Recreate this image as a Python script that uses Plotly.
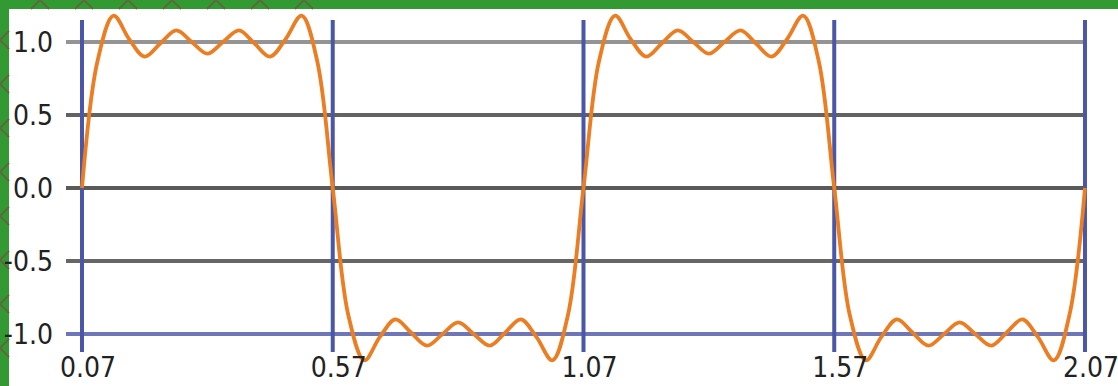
import plotly.graph_objects as go

W, H = 1118, 386

# curve samples: two periods, read every 1/32 of a period
x_vals = [
    0.070, 0.101, 0.133, 0.164, 0.195, 0.226, 0.258, 0.289, 0.320, 0.351, 0.383,
    0.414, 0.445, 0.476, 0.508, 0.539, 0.570, 0.601, 0.633, 0.664, 0.695, 0.726,
    0.758, 0.789, 0.820, 0.851, 0.883, 0.914, 0.945, 0.976, 1.008, 1.039, 1.070,
    1.101, 1.133, 1.164, 1.195, 1.226, 1.258, 1.289, 1.320, 1.351, 1.383, 1.414,
    1.445, 1.476, 1.508, 1.539, 1.570, 1.601, 1.633, 1.664, 1.695, 1.726, 1.758,
    1.789, 1.820, 1.851, 1.883, 1.914, 1.945, 1.976, 2.008, 2.039, 2.070,
]
y_vals = [
    0.00, 0.87, 1.18, 1.02, 0.90, 0.99, 1.08, 1.00, 0.92, 1.00, 1.08,
    0.99, 0.90, 1.02, 1.18, 0.87, 0.00, -0.87, -1.18, -1.02, -0.90, -0.99,
    -1.08, -1.00, -0.92, -1.00, -1.08, -0.99, -0.90, -1.02, -1.18, -0.87, 0.00,
    0.87, 1.18, 1.02, 0.90, 0.99, 1.08, 1.00, 0.92, 1.00, 1.08, 0.99,
    0.90, 1.02, 1.18, 0.87, 0.00, -0.87, -1.18, -1.02, -0.90, -0.99, -1.08,
    -1.00, -0.92, -1.00, -1.08, -0.99, -0.90, -1.02, -1.18, -0.87, 0.00,
]

x_ticks = [0.07, 0.57, 1.07, 1.57, 2.07]
x_tick_text = ["0.07", "0.57", "1.07", "1.57", "2.07"]
y_ticks = [1.0, 0.5, 0.0, -0.5, -1.0]
y_tick_text = ["1.0", "0.5", "0.0", "-0.5", "-1.0"]
h_line_colors = ["#949494", "#626262", "#5a5a5a", "#666666", "#6d77b8"]

# plot-area geometry in pixels (area is taller than the grid so the
# overshoot of the curve below -1 is not clipped)
ML, MR, MT, MB = 66, 28, 5, 14
PW, PH = W - ML - MR, H - MT - MB
X_RANGE = [0.0381, 2.0800]
Y_RANGE = [-1.2603, 1.2534]
GRID_BOTTOM, GRID_TOP = -1.1233, 1.151

GREEN = "#339933"
OLIVE = "#5d6a3b"
BAND = 9          # frame thickness
LATTICE_END = 330  # lattice runs along the top only up to here


def px(xp):
    return (xp - ML) / PW


def py(yp):
    return (H - MB - yp) / PH


def seg(x0, y0, x1, y1):
    return dict(type="line", xref="paper", yref="paper",
                x0=px(x0), y0=py(y0), x1=px(x1), y1=py(y1),
                line=dict(color=OLIVE, width=2), layer="below")


shapes = [
    dict(type="rect", xref="paper", yref="paper",
         x0=px(0), y0=py(0), x1=px(W), y1=py(BAND),
         fillcolor=GREEN, line=dict(width=0), layer="below"),
    dict(type="rect", xref="paper", yref="paper",
         x0=px(0), y0=py(0), x1=px(BAND), y1=py(H),
         fillcolor=GREEN, line=dict(width=0), layer="below"),
]

# diamond lattice inside the frame bands (slopes +1 and -1)
for c in range(-400, 800, 44):
    # left band: x in [0, BAND]
    for sgn in (1, -1):
        ya, yb = c, c + sgn * BAND
        if 0 <= min(ya, yb) and max(ya, yb) <= H:
            shapes.append(seg(0, ya, BAND, yb))
    # top band: y in [0, BAND]
    for sgn in (1, -1):
        xa, xb = c, c + sgn * BAND
        if BAND <= min(xa, xb) and max(xa, xb) <= LATTICE_END:
            shapes.append(seg(xa, 0, xb, BAND))

# horizontal grid
for yv, col in zip(y_ticks, h_line_colors):
    shapes.append(dict(type="line", xref="x", yref="y",
                       x0=X_RANGE[0], x1=2.07, y0=yv, y1=yv,
                       line=dict(color=col, width=4), layer="below"))
# vertical grid
for xv in x_ticks:
    shapes.append(dict(type="line", xref="x", yref="y",
                       x0=xv, x1=xv, y0=GRID_BOTTOM, y1=GRID_TOP,
                       line=dict(color="#4a57a8", width=4), layer="below"))

fig = go.Figure()
fig.add_trace(go.Scatter(
    x=x_vals, y=y_vals, mode="lines",
    line=dict(color="#eb7d22", width=3.8, shape="spline", smoothing=1.0),
    hoverinfo="skip", showlegend=False,
))

tick_font = dict(family="DejaVu Sans Condensed, Liberation Sans",
                 size=28, color="#222222")
fig.update_layout(
    width=W, height=H,
    margin=dict(l=ML, r=MR, t=MT, b=MB, pad=0),
    paper_bgcolor="#ffffff",
    plot_bgcolor="rgba(0,0,0,0)",
    shapes=shapes,
    showlegend=False,
    xaxis=dict(range=X_RANGE, tickvals=x_ticks, ticktext=x_tick_text,
               showgrid=False, zeroline=False, showline=False, ticks="",
               automargin=False, ticklabeloverflow="allow",
               tickfont=tick_font, ticklabelshift=6, ticklabelstandoff=-24),
    yaxis=dict(range=Y_RANGE, tickvals=y_ticks, ticktext=y_tick_text,
               showgrid=False, zeroline=False, showline=False, ticks="",
               automargin=False, ticklabeloverflow="allow",
               tickfont=tick_font, ticklabelstandoff=12),
)

fig.write_html("out.html")
